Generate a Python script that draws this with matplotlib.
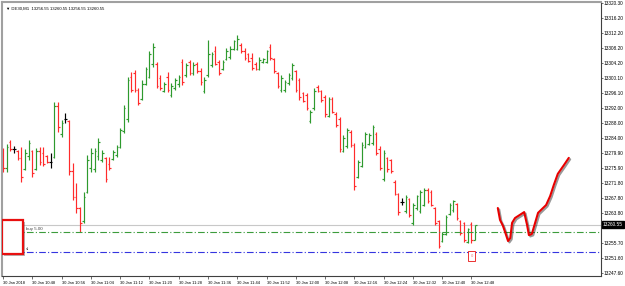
import matplotlib.pyplot as plt
import matplotlib.patheffects as pe
from matplotlib.patches import Rectangle

# OHLC of the DE30 M1 bars, 10:40 .. 12:49
opens = [13280.0, 13276.0, 13282.8, 13281.0, 13280.5, 13278.5, 13275.5, 13279.0, 13280.5, 13275.5,
         13280.5, 13280.0, 13279.0, 13277.5, 13278.8, 13292.5, 13285.0, 13289.0, 13288.5, 13275.0,
         13268.0, 13265.0, 13261.5, 13269.5, 13276.0, 13275.5, 13279.0, 13278.0, 13278.5, 13277.0,
         13278.3, 13279.5, 13281.5, 13285.8, 13289.0, 13300.5, 13301.5, 13297.0, 13294.5, 13298.5,
         13300.5, 13304.0, 13304.0, 13300.0, 13296.7, 13300.5, 13295.5, 13297.5, 13298.5, 13304.5,
         13300.8, 13304.5, 13301.5, 13304.0, 13302.0, 13296.5, 13301.0, 13303.5, 13307.5, 13304.5,
         13302.5, 13305.3, 13305.8, 13308.0, 13308.0, 13309.0, 13307.5, 13306.5, 13305.5, 13304.0,
         13302.6, 13304.4, 13304.5, 13308.5, 13305.2, 13301.5, 13296.8, 13297.0, 13298.8, 13300.0,
         13302.0, 13299.5, 13296.0, 13295.5, 13288.5, 13292.0, 13297.8, 13296.5, 13295.0, 13290.0,
         13294.5, 13290.5, 13289.0, 13280.5, 13281.8, 13285.5, 13282.0, 13273.5, 13276.5, 13281.6,
         13282.4, 13282.5, 13285.0, 13281.0, 13272.8, 13278.5, 13278.0, 13272.2, 13268.8, 13266.8,
         13264.2, 13267.5, 13261.0, 13265.0, 13264.2, 13266.0, 13270.0, 13269.5, 13265.0, 13261.5,
         13256.2, 13258.2, 13263.5, 13264.5, 13266.2, 13261.5, 13261.0, 13256.0, 13260.8, 13256.55]
highs = [13281.3, 13282.3, 13283.4, 13281.8, 13280.7, 13281.5, 13281.0, 13283.4, 13280.7, 13281.3,
         13281.5, 13281.5, 13279.4, 13279.9, 13293.7, 13293.7, 13288.8, 13290.7, 13288.8, 13277.2,
         13271.8, 13265.4, 13269.4, 13279.4, 13281.3, 13281.3, 13284.0, 13280.7, 13278.8, 13278.8,
         13280.7, 13282.1, 13286.6, 13292.8, 13300.4, 13301.7, 13302.3, 13297.4, 13299.6, 13303.1,
         13307.4, 13309.5, 13304.4, 13300.9, 13299.0, 13301.7, 13298.8, 13300.1, 13300.9, 13305.2,
         13304.2, 13305.0, 13304.4, 13304.4, 13302.8, 13300.4, 13310.3, 13307.1, 13308.7, 13305.0,
         13305.0, 13308.2, 13308.7, 13310.3, 13311.7, 13309.5, 13308.2, 13306.8, 13306.8, 13304.4,
         13305.8, 13305.5, 13307.7, 13309.3, 13305.5, 13301.7, 13300.9, 13299.6, 13301.5, 13304.2,
         13302.3, 13300.1, 13296.3, 13296.1, 13291.5, 13297.4, 13298.2, 13296.9, 13295.5, 13295.0,
         13295.0, 13291.0, 13289.6, 13284.8, 13286.6, 13286.1, 13282.6, 13278.0, 13282.9, 13285.6,
         13285.3, 13287.5, 13285.6, 13281.8, 13280.7, 13278.8, 13278.3, 13272.6, 13269.1, 13267.8,
         13268.6, 13267.8, 13266.5, 13268.6, 13270.0, 13270.5, 13270.5, 13270.0, 13265.4, 13261.9,
         13258.6, 13263.2, 13266.5, 13267.3, 13266.5, 13261.9, 13261.3, 13259.7, 13261.3, 13260.55]
lows = [13274.8, 13274.8, 13280.5, 13279.9, 13278.0, 13272.1, 13275.3, 13278.0, 13273.5, 13275.3,
        13276.7, 13276.4, 13277.2, 13275.9, 13278.6, 13285.6, 13284.2, 13288.0, 13274.0, 13267.3,
        13263.8, 13258.6, 13261.1, 13269.1, 13274.8, 13274.8, 13278.0, 13277.5, 13272.1, 13275.3,
        13278.0, 13278.8, 13281.3, 13285.3, 13288.3, 13296.3, 13296.3, 13292.8, 13294.2, 13298.2,
        13300.1, 13303.1, 13297.4, 13296.9, 13296.3, 13296.3, 13295.0, 13296.9, 13297.7, 13298.2,
        13300.4, 13300.9, 13300.9, 13301.5, 13298.2, 13296.1, 13300.4, 13303.1, 13303.6, 13300.9,
        13302.3, 13305.0, 13305.2, 13307.7, 13307.7, 13306.8, 13305.0, 13304.4, 13302.3, 13302.3,
        13302.3, 13304.2, 13304.2, 13305.0, 13301.5, 13297.4, 13296.3, 13296.3, 13298.2, 13299.6,
        13296.3, 13294.2, 13293.7, 13291.5, 13288.0, 13291.5, 13296.3, 13293.7, 13289.6, 13289.6,
        13290.7, 13286.9, 13280.2, 13280.2, 13281.3, 13281.5, 13270.0, 13273.2, 13276.2, 13281.3,
        13282.1, 13282.1, 13279.4, 13275.3, 13272.4, 13274.8, 13274.5, 13268.6, 13263.2, 13265.9,
        13263.8, 13262.7, 13260.5, 13264.6, 13263.8, 13265.6, 13266.5, 13265.6, 13260.5, 13254.3,
        13256.0, 13257.8, 13263.2, 13264.0, 13261.9, 13257.8, 13256.0, 13255.7, 13255.7, 13256.55]
closes = [13276.0, 13281.5, 13281.0, 13281.0, 13278.5, 13273.5, 13280.0, 13282.5, 13274.5, 13280.5,
          13277.5, 13277.0, 13277.5, 13277.5, 13292.5, 13287.0, 13288.0, 13289.0, 13275.0, 13268.0,
          13265.0, 13261.0, 13268.0, 13278.0, 13280.0, 13280.5, 13283.0, 13280.0, 13273.0, 13276.0,
          13280.3, 13281.5, 13286.0, 13292.0, 13299.5, 13297.0, 13297.0, 13293.5, 13298.5, 13302.5,
          13306.5, 13308.5, 13298.0, 13297.5, 13298.5, 13297.0, 13298.0, 13299.5, 13300.5, 13299.0,
          13303.5, 13301.5, 13303.5, 13302.0, 13299.0, 13299.5, 13306.5, 13306.5, 13304.0, 13301.5,
          13304.5, 13307.5, 13308.0, 13310.0, 13310.5, 13307.5, 13305.5, 13304.8, 13302.8, 13302.5,
          13305.0, 13305.2, 13307.3, 13305.5, 13302.0, 13298.0, 13300.0, 13299.0, 13301.0, 13303.5,
          13297.0, 13295.0, 13294.0, 13292.0, 13291.0, 13296.5, 13296.6, 13294.2, 13290.5, 13294.5,
          13291.0, 13287.5, 13281.0, 13284.0, 13286.0, 13282.0, 13271.0, 13277.5, 13282.0, 13285.0,
          13284.8, 13287.0, 13280.0, 13276.0, 13280.0, 13275.5, 13275.0, 13269.0, 13264.0, 13266.8,
          13268.0, 13263.2, 13266.0, 13268.2, 13269.5, 13270.0, 13267.0, 13266.0, 13261.0, 13255.0,
          13258.2, 13262.8, 13266.0, 13267.0, 13262.5, 13258.5, 13256.5, 13259.5, 13256.5, 13260.55]

time_labels = ["30 Jan 2018", "30 Jan 10:48", "30 Jan 10:56", "30 Jan 11:04", "30 Jan 11:12",
               "30 Jan 11:20", "30 Jan 11:28", "30 Jan 11:36", "30 Jan 11:44", "30 Jan 11:52",
               "30 Jan 12:00", "30 Jan 12:08", "30 Jan 12:16", "30 Jan 12:24", "30 Jan 12:32",
               "30 Jan 12:40", "30 Jan 12:48"]
price_ticks = [13320.30, 13316.20, 13312.20, 13308.20, 13304.20, 13300.10, 13296.10, 13292.00,
               13288.00, 13284.00, 13279.90, 13275.90, 13271.80, 13267.80, 13263.80, 13255.70,
               13251.60, 13247.60]
bid = 13260.55
buy_level = 13258.64
sl_level = 13253.3
# hand drawn forecast line (bar index, price)
sketch_x = [135.2, 135.8, 136.6, 137.2, 138.0, 138.6, 139.1, 139.9, 142.4, 143.2, 143.7, 144.5,
            146.2, 148.4, 149.5, 150.5, 151.6, 153.3, 154.6]
sketch_y = [13265.1, 13261.9, 13260.3, 13258.6, 13256.2, 13257.0, 13261.1, 13262.4, 13264.0,
            13260.5, 13257.8, 13258.1, 13263.8, 13265.9, 13268.3, 13271.3, 13274.3, 13276.7, 13278.6]

fnt = 'Liberation Sans'
ymin, ymax = 13246.79, 13320.57

fig = plt.figure(figsize=(6.25, 2.86), dpi=100)
ax = fig.add_axes([2/625, 1 - 276/286, 599/625, 274/286])

x = list(range(len(opens)))
cols = []
for o, c in zip(opens, closes):
    if c > o:
        cols.append('#2e9a2e')
    elif c < o:
        cols.append('#ff2b2b')
    else:
        cols.append('black')

ax.vlines(x, lows, highs, colors=cols, lw=0.85)
ax.hlines(opens, [i - 0.45 for i in x], x, colors=cols, lw=0.85)
ax.hlines(closes, x, [i + 0.45 for i in x], colors=cols, lw=0.85)

# bid line and order lines
ax.axhline(bid, color='#c8c8c8', lw=0.8, zorder=0)
ax.axhline(buy_level, color='#3c9c3c', lw=0.8, dashes=(6, 2, 1, 2))
ax.axhline(sl_level, color='#3535e0', lw=0.8, dashes=(6, 2, 1, 2))
ax.text(6.3, buy_level + 0.3, "buy 5.00", fontsize=3.2, color='#444444', family=fnt, va='bottom')
ax.text(6.3, sl_level + 0.3, "sl", fontsize=3.2, color='#444444', family=fnt, va='bottom')

# red marker boxes
ax.add_patch(Rectangle((-0.27, 13252.7), 5.7, 9.2, facecolor='white', edgecolor='#e81010',
                       lw=1.6, zorder=5,
                       path_effects=[pe.SimplePatchShadow(offset=(1.2, -1.2), alpha=0.4), pe.Normal()]))
ax.add_patch(Rectangle((127.0, 13250.8), 2.0, 2.7, facecolor='white', edgecolor='#e81010',
                       lw=0.6, zorder=5))
ax.text(128.0, 13252.1, "0", fontsize=2.6, color='#f07070', ha='center', va='center', zorder=6)

ax.plot(sketch_x, sketch_y, color='#e80000', lw=1.5, solid_capstyle='round', zorder=6,
        path_effects=[pe.SimpleLineShadow(offset=(1.0, -1.0), alpha=0.4), pe.Normal()])

ax.set_xlim(-0.3, 163.4)
ax.set_ylim(ymin, ymax)

ax.set_xticks(list(range(0, 129, 8)))
ax.set_xticklabels(time_labels, fontsize=2.9, family=fnt, ha='left')
ax.set_yticks(price_ticks)
ax.set_yticklabels([f"{p:.2f}" for p in price_ticks], fontsize=3.4, family=fnt)
ax.yaxis.tick_right()
ax.tick_params(axis='x', length=2, width=0.5, pad=1.5, color='#333333')
ax.tick_params(axis='y', length=1.5, width=0.5, pad=0.7, color='#333333')

ax.text(1.003, (bid - ymin) / (ymax - ymin), f"{bid:.2f}", transform=ax.transAxes,
        fontsize=3.4, family=fnt, color='white', va='center', ha='left',
        bbox=dict(boxstyle='square,pad=0.2', fc='black', ec='black'))

for s in ['left', 'top']:
    ax.spines[s].set_color('#a0a0a0')
    ax.spines[s].set_linewidth(1.5)
for s in ['right', 'bottom']:
    ax.spines[s].set_color('#404040')
    ax.spines[s].set_linewidth(0.8)

ax.text(0.006, 0.985, "\u25bc DE30,M1  13256.55 13260.55 13256.55 13260.55", transform=ax.transAxes,
        fontsize=3.1, family=fnt, va='top', ha='left')

fig.savefig("out.png", dpi=100)
